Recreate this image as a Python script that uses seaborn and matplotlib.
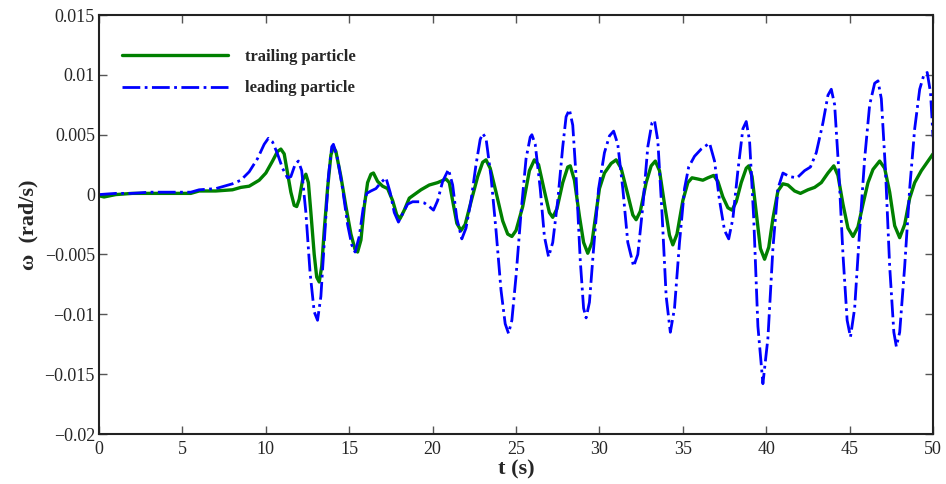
import numpy as np
import pandas as pd
import matplotlib
matplotlib.use('Agg')
import matplotlib.pyplot as plt
import seaborn as sns

# trailing particle
t_trail = [0.0, 0.3, 1.0, 2.0, 3.0, 4.0, 5.0, 5.5, 6.0, 7.0, 8.0, 8.5, 9.0, 9.6, 10.0,
           10.4, 10.7, 10.9, 11.1, 11.3, 11.5, 11.7, 11.85, 12.0, 12.2, 12.4, 12.55, 12.7,
           12.9, 13.05, 13.2, 13.35, 13.5, 13.7, 13.9, 14.05, 14.2, 14.5, 14.8, 15.1, 15.35,
           15.5, 15.7, 15.9, 16.1, 16.3, 16.45, 16.7, 17.0, 17.3, 17.6, 17.85, 18.05, 18.3,
           18.6, 18.9, 19.3, 19.8, 20.3, 20.8, 21.0, 21.2, 21.45, 21.7, 21.95, 22.3, 22.7,
           23.0, 23.2, 23.45, 23.8, 24.2, 24.5, 24.75, 25.0, 25.4, 25.8, 26.1, 26.35, 26.7,
           27.0, 27.2, 27.45, 27.8, 28.1, 28.25, 28.5, 28.8, 29.05, 29.3, 29.55, 29.8, 30.0,
           30.3, 30.7, 31.0, 31.3, 31.7, 32.0, 32.2, 32.45, 32.8, 33.1, 33.35, 33.6, 33.9,
           34.2, 34.4, 34.65, 35.0, 35.3, 35.55, 35.9, 36.2, 36.5, 36.85, 37.1, 37.4, 37.7,
           37.95, 38.2, 38.5, 38.8, 38.95, 39.15, 39.4, 39.65, 39.9, 40.15, 40.4, 40.7, 41.0,
           41.3, 41.7, 42.05, 42.5, 42.9, 43.3, 43.7, 44.05, 44.3, 44.6, 44.9, 45.2, 45.5,
           45.8, 46.1, 46.4, 46.8, 47.1, 47.4, 47.7, 48.0, 48.3, 48.6, 48.9, 49.3, 49.7, 50.0]
w_trail = [-0.0001, -0.0002, 0.0, 0.0001, 0.0001, 0.0001, 0.0001, 0.0001, 0.0003, 0.0003,
           0.0004, 0.0006, 0.0007, 0.0012, 0.0018, 0.0028, 0.0036, 0.0038, 0.0034, 0.0018,
           0.0002, -0.0009, -0.0010, -0.0004, 0.0012, 0.0017, 0.0010, -0.0015, -0.0050,
           -0.0069, -0.0073, -0.0060, -0.0030, 0.0005, 0.0033, 0.0040, 0.0036, 0.0015,
           -0.0010, -0.0033, -0.0046, -0.0048, -0.0038, -0.0010, 0.0010, 0.0017, 0.0018,
           0.0011, 0.0007, 0.0005, -0.0005, -0.0017, -0.0020, -0.0013, -0.0003, 0.0000,
           0.0004, 0.0008, 0.0010, 0.0013, 0.0010, -0.0005, -0.0024, -0.0030, -0.0025,
           -0.0006, 0.0015, 0.0027, 0.0029, 0.0022, 0.0002, -0.0022, -0.0033, -0.0035,
           -0.0030, -0.0010, 0.0020, 0.0029, 0.0025, 0.0003, -0.0015, -0.0019, -0.0012,
           0.0010, 0.0023, 0.0024, 0.0012, -0.0018, -0.0040, -0.0049, -0.0040, -0.0015,
           0.0005, 0.0018, 0.0026, 0.0029, 0.0022, 0.0000, -0.0017, -0.0021, -0.0014,
           0.0010, 0.0024, 0.0028, 0.0020, -0.0008, -0.0034, -0.0042, -0.0033, -0.0005,
           0.0010, 0.0014, 0.0013, 0.0012, 0.0014, 0.0016, 0.0011, -0.0002, -0.0011,
           -0.0013, -0.0006, 0.0010, 0.0022, 0.0024, 0.0015, -0.0015, -0.0045, -0.0054,
           -0.0044, -0.0020, 0.0003, 0.0009, 0.0008, 0.0003, 0.0001, 0.0004, 0.0006, 0.0010,
           0.0018, 0.0024, 0.0016, -0.0008, -0.0028, -0.0035, -0.0027, -0.0008, 0.0010,
           0.0021, 0.0028, 0.0022, 0.0002, -0.0026, -0.0036, -0.0025, -0.0003, 0.0010,
           0.0020, 0.0028, 0.0034]

# leading particle
t_lead = [0.0, 1.0, 2.0, 3.0, 4.0, 5.0, 5.5, 6.0, 7.0, 7.5, 8.0, 8.5, 9.0, 9.5, 9.9, 10.15,
          10.4, 10.7, 11.0, 11.3, 11.5, 11.75, 11.95, 12.15, 12.4, 12.65, 12.9, 13.1, 13.3,
          13.5, 13.75, 13.95, 14.05, 14.3, 14.6, 14.9, 15.15, 15.35, 15.6, 15.85, 16.05,
          16.3, 16.6, 16.9, 17.2, 17.45, 17.7, 17.95, 18.2, 18.5, 18.8, 19.2, 19.5, 19.8,
          20.05, 20.3, 20.6, 20.95, 21.2, 21.45, 21.75, 22.0, 22.3, 22.6, 22.85, 23.0, 23.2,
          23.5, 23.8, 24.1, 24.35, 24.55, 24.75, 25.0, 25.3, 25.6, 25.85, 25.95, 26.15,
          26.45, 26.7, 26.95, 27.2, 27.5, 27.8, 28.0, 28.2, 28.4, 28.6, 28.85, 29.05, 29.2,
          29.4, 29.65, 29.95, 30.3, 30.6, 30.85, 31.1, 31.4, 31.7, 32.05, 32.3, 32.6, 32.9,
          33.15, 33.3, 33.5, 33.75, 34.0, 34.25, 34.5, 34.8, 35.1, 35.35, 35.7, 36.1, 36.6,
          36.9, 37.2, 37.5, 37.75, 38.0, 38.3, 38.6, 38.8, 39.0, 39.25, 39.5, 39.8, 40.1,
          40.4, 40.7, 41.0, 41.4, 41.85, 42.3, 42.65, 43.0, 43.4, 43.7, 43.9, 44.1, 44.35,
          44.6, 44.85, 45.05, 45.3, 45.6, 45.9, 46.2, 46.5, 46.7, 46.9, 47.15, 47.4, 47.65,
          47.8, 48.0, 48.3, 48.6, 48.9, 49.2, 49.45, 49.65, 49.85, 50.0]
w_lead = [0.0, 0.0001, 0.0001, 0.0002, 0.0002, 0.0002, 0.0002, 0.0004, 0.0005, 0.0007,
          0.0009, 0.0012, 0.0019, 0.0030, 0.0042, 0.0047, 0.0044, 0.0034, 0.0022, 0.0014,
          0.0015, 0.0025, 0.0028, 0.0020, -0.0015, -0.0065, -0.0098, -0.0105, -0.0085,
          -0.0040, 0.0015, 0.0040, 0.0042, 0.0030, 0.0005, -0.0025, -0.0042, -0.0048,
          -0.0035, -0.0010, 0.0001, 0.0003, 0.0005, 0.0010, 0.0014, 0.0002, -0.0015,
          -0.0023, -0.0016, -0.0008, -0.0006, -0.0006, -0.0007, -0.0010, -0.0013, -0.0005,
          0.0011, 0.0021, 0.0008, -0.0020, -0.0037, -0.0028, -0.0005, 0.0025, 0.0046,
          0.0051, 0.0047, 0.0015, -0.0030, -0.0080, -0.0108, -0.0116, -0.0105, -0.0068,
          -0.0015, 0.0030, 0.0048, 0.0050, 0.0042, 0.0005, -0.0035, -0.0052, -0.0040,
          -0.0005, 0.0040, 0.0065, 0.0071, 0.0058, 0.0015, -0.0055, -0.0095, -0.0103,
          -0.0090, -0.0045, 0.0005, 0.0035, 0.0049, 0.0053, 0.0042, 0.0005, -0.0040,
          -0.0060, -0.0050, -0.0010, 0.0040, 0.0060, 0.0062, 0.0045, -0.0015, -0.0085,
          -0.0115, -0.0095, -0.0040, 0.0005, 0.0023, 0.0032, 0.0038, 0.0043, 0.0028,
          -0.0005, -0.0030, -0.0037, -0.0020, 0.0020, 0.0055, 0.0061, 0.0045, -0.0020,
          -0.0110, -0.0158, -0.0120, -0.0045, 0.0005, 0.0018, 0.0015, 0.0014, 0.0020,
          0.0023, 0.0035, 0.0060, 0.0083, 0.0088, 0.0075, 0.0020, -0.0050, -0.0105,
          -0.0119, -0.0095, -0.0030, 0.0030, 0.0075, 0.0093, 0.0095, 0.0080, 0.0020,
          -0.0060, -0.0115, -0.0127, -0.0115, -0.0060, 0.0005, 0.0055, 0.0088, 0.0100,
          0.0102, 0.0085, 0.0048]

x_ticks = [0, 5, 10, 15, 20, 25, 30, 35, 40, 45, 50]
y_ticks = [-0.02, -0.015, -0.01, -0.005, 0, 0.005, 0.01, 0.015]
y_tick_labels = ['\u22120.02', '\u22120.015', '\u22120.01', '\u22120.005', '0',
                 '0.005', '0.01', '0.015']

df_trail = pd.DataFrame({'t': t_trail, 'w': w_trail})
df_lead = pd.DataFrame({'t': t_lead, 'w': w_lead})

sns.set_style('ticks')
plt.rcParams['font.family'] = ['Liberation Serif', 'DejaVu Serif']
plt.rcParams['xtick.direction'] = 'in'
plt.rcParams['ytick.direction'] = 'in'

fig = plt.figure(figsize=(9.46, 4.84), dpi=100)
ax = fig.add_axes([0.1047, 0.1033, 0.8816, 0.8657])

sns.lineplot(data=df_trail, x='t', y='w', ax=ax, color='#008000', lw=2.4,
             sort=False, estimator=None, label='trailing particle')
sns.lineplot(data=df_lead, x='t', y='w', ax=ax, color='#0000ff', lw=2.0,
             linestyle='-.', sort=False, estimator=None, label='leading particle')

ax.set_xlim(0, 50)
ax.set_ylim(-0.02, 0.015)
ax.set_xticks(x_ticks)
ax.set_xticklabels([str(v) for v in x_ticks], fontsize=13)
ax.set_yticks(y_ticks)
ax.set_yticklabels(y_tick_labels, fontsize=13)
ax.tick_params(top=True, right=True, length=6, width=1, color='#555555')
ax.tick_params(axis='x', pad=5)
ax.tick_params(axis='y', pad=3)
for s in ax.spines.values():
    s.set_linewidth(1.5)
    s.set_color('#222222')

ax.set_xlabel('t (s)', fontsize=16, fontweight='bold', labelpad=1)
ax.set_ylabel('ω  (rad/s)', fontsize=16, fontweight='bold', labelpad=4)

ax.legend(loc='upper left', bbox_to_anchor=(0.027, 0.92), frameon=False,
          prop={'weight': 'bold', 'size': 12}, handlelength=6.4,
          handletextpad=1.0, labelspacing=0.95, borderaxespad=0, borderpad=0)

fig.savefig('out.png', dpi=100)
